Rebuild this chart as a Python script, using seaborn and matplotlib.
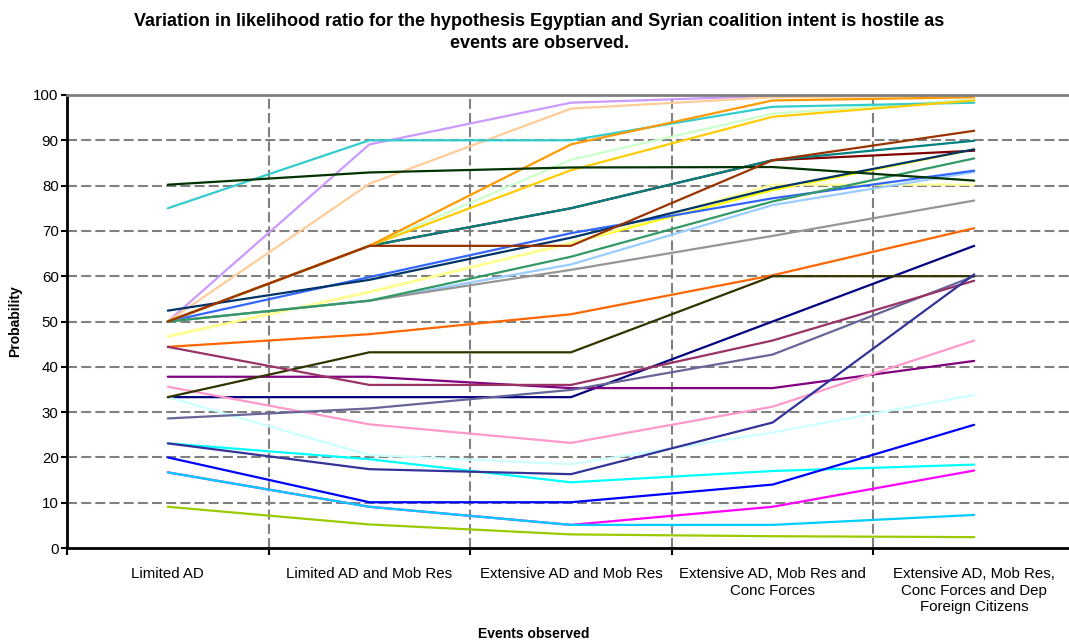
import matplotlib
matplotlib.use("Agg")
import matplotlib.pyplot as plt
import seaborn as sns
import pandas as pd

# Events observed (x categories)
events = [
    "Limited AD",
    "Limited AD and Mob Res",
    "Extensive AD and Mob Res",
    "Extensive AD, Mob Res and\nConc Forces",
    "Extensive AD, Mob Res,\nConc Forces and Dep\nForeign Citizens",
]

# Probability (%) for each hypothesis series, one value per event
s01 = [33.3, 33.3, 33.3, 50.0, 66.7]
s02 = [16.7, 9.1, 5.1, 9.1, 17.1]
s03 = [46.7, 56.5, 67.3, 79.0, 88.0]
s04 = [23.1, 19.6, 14.5, 17.0, 18.4]
s05 = [37.8, 37.8, 35.3, 35.3, 41.3]
s06 = [50.0, 66.7, 75.0, 85.6, 87.7]
s07 = [50.0, 66.7, 75.0, 85.6, 89.9]
s08 = [20.0, 10.1, 10.1, 14.0, 27.2]
s09 = [16.7, 9.1, 5.1, 5.1, 7.3]
s10 = [33.3, 20.5, 18.5, 25.5, 33.8]
s11 = [50.0, 66.7, 85.7, 95.9, 99.0]
s12 = [46.7, 56.5, 67.3, 80.2, 80.2]
s13 = [50.0, 54.6, 62.6, 75.7, 83.0]
s14 = [35.6, 27.3, 23.2, 31.2, 45.8]
s15 = [50.0, 89.1, 98.3, 99.8, 100.0]
s16 = [50.0, 80.4, 97.0, 99.5, 99.9]
s17 = [50.0, 59.8, 69.5, 77.2, 83.3]
s18 = [75.0, 90.0, 90.0, 97.4, 98.3]
s19 = [9.1, 5.2, 3.0, 2.6, 2.4]
s20 = [50.0, 66.7, 83.4, 95.2, 98.8]
s21 = [50.0, 66.7, 89.1, 98.8, 99.5]
s22 = [44.4, 47.2, 51.6, 60.2, 70.6]
s23 = [28.6, 30.8, 34.9, 42.7, 60.0]
s24 = [50.0, 54.6, 61.4, 68.9, 76.7]
s25 = [52.4, 59.2, 68.5, 79.4, 88.0]
s26 = [50.0, 54.6, 64.3, 76.5, 86.0]
s27 = [80.2, 82.9, 84.0, 84.1, 81.1]
s28 = [33.3, 43.2, 43.2, 60.0, 60.0]
s29 = [50.0, 66.7, 66.7, 85.6, 92.1]
s30 = [44.4, 36.0, 36.0, 45.8, 59.0]
s31 = [23.1, 17.4, 16.3, 27.7, 60.4]

series = [s01, s02, s03, s04, s05, s06, s07, s08, s09, s10, s11, s12, s13, s14, s15, s16,
          s17, s18, s19, s20, s21, s22, s23, s24, s25, s26, s27, s28, s29, s30, s31]

colors = ["#000080", "#FF00FF", "#FFFF00", "#00FFFF", "#800080", "#800000", "#008080", "#0000FF",
          "#00CCFF", "#CCFFFF", "#CCFFCC", "#FFFF99", "#99CCFF", "#FF99CC", "#CC99FF", "#FFCC99",
          "#3366FF", "#33CCCC", "#99CC00", "#FFCC00", "#FF9900", "#FF6600", "#666699", "#969696",
          "#003366", "#339966", "#003300", "#333300", "#993300", "#993366", "#333399"]

names = [f"H{i + 1}" for i in range(len(series))]
rows = []
for name, vals in zip(names, series):
    for i, v in enumerate(vals):
        rows.append({"event": i, "prob": v, "series": name})
df = pd.DataFrame(rows)

sns.set_style("white")
plt.rcParams["font.family"] = ["Liberation Sans", "DejaVu Sans"]
plt.rcParams["text.color"] = "black"
plt.rcParams["axes.labelcolor"] = "black"
plt.rcParams["xtick.color"] = "black"
plt.rcParams["ytick.color"] = "black"

fig = plt.figure(figsize=(10.69, 6.41), dpi=100)
ax = fig.add_axes([67 / 1069, 1 - 548 / 641, (1075 - 67) / 1069, (548 - 95) / 641])

sns.lineplot(data=df, x="event", y="prob", hue="series", hue_order=names,
             palette=dict(zip(names, colors)), linewidth=1.6, legend=False,
             sort=False, estimator=None, ax=ax)

ax.set_xlim(-0.5, len(events) - 0.5)
ax.set_ylim(0, 100)

# dashed grey gridlines
grid_kw = dict(color="#808080", linewidth=1.5, dashes=(4.8, 2.0), zorder=0)
for yv in range(10, 100, 10):
    ax.axhline(yv, **grid_kw)
for xb in range(len(events) - 1):
    ax.axvline(xb + 0.5, **grid_kw)

for side in ("left", "bottom"):
    ax.spines[side].set_color("black")
    ax.spines[side].set_linewidth(2)
ax.spines["top"].set_color("#808080")
ax.spines["top"].set_linewidth(2)
ax.spines["right"].set_visible(False)

ax.set_yticks(range(0, 101, 10))
ax.tick_params(axis="y", direction="out", length=4, width=1.5, color="black",
               labelsize=10.8, pad=2, left=True, labelcolor="black")
ax.set_xticks(range(len(events)))
ax.set_xticklabels(events, fontsize=10.8, linespacing=1.2)
ax.tick_params(axis="x", which="major", length=0, pad=14, labelcolor="black")
ax.set_xticks([i - 0.5 for i in range(len(events) + 1)], minor=True)
ax.tick_params(axis="x", which="minor", direction="out", length=5, width=1.5,
               color="black", bottom=True)
for lbl in ax.get_xticklabels():
    lbl.set_verticalalignment("top")

ax.set_xlabel("Events observed", fontsize=10, fontweight="bold", color="black")
ax.set_ylabel("Probability", fontsize=10, fontweight="bold", labelpad=8, color="black")
ax.xaxis.set_label_coords((534 - 67) / (1075 - 67), -0.174)

fig.text(0.5047, 1 - 13 / 641,
         "Variation in likelihood ratio for the hypothesis Egyptian and Syrian coalition intent is hostile as\nevents are observed.",
         ha="center", va="top", fontsize=13, fontweight="bold", linespacing=1.35,
         color="black")

fig.savefig("out.png", dpi=100)
